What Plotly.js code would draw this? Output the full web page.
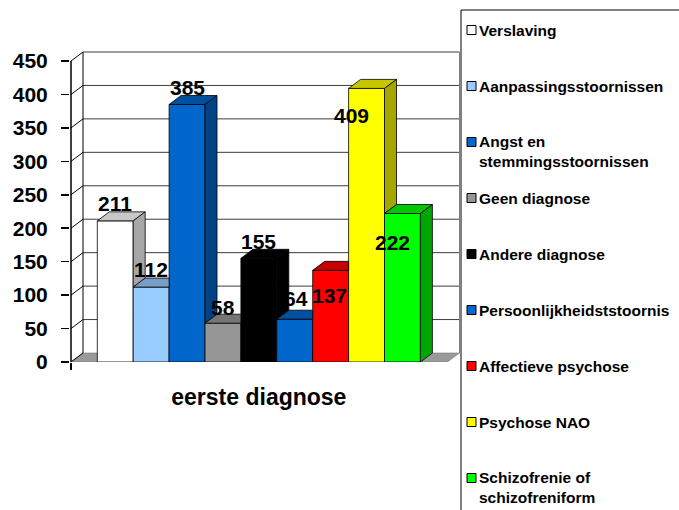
<!DOCTYPE html>
<html><head><meta charset="utf-8">
<script src="https://cdn.plot.ly/plotly-3.0.1.min.js"></script>
<style>html,body{margin:0;padding:0;background:#fff;} #chart{width:679px;height:510px;}</style>
</head><body><div id="chart"></div>
<script>
// ---------------- data ----------------
const categories = ["Verslaving", "Aanpassingsstoornissen", "Angst en stemmingsstoornissen", "Geen diagnose", "Andere diagnose", "Persoonlijkheidststoornis", "Affectieve psychose", "Psychose NAO", "Schizofrenie of schizofreniform"];
const values = [211, 112, 385, 58, 155, 64, 137, 409, 222];
const groupLabel = ["eerste diagnose"];
const yTickValues = [0, 50, 100, 150, 200, 250, 300, 350, 400, 450];

// ---------------- styles ----------------
const colors = ["#ffffff", "#99ccff", "#0066cc", "#969696", "#000000", "#0066cc", "#ff0000", "#ffff00", "#00ff00"];
const labelDx = [0, 0, 0, 0, 0, 1, -1.5, -15, -10];      // px
const labelDy = [17.5, 18, 17, 16, 17, 21, -25, -27, -29]; // px (up positive)

const FONT = "Liberation Sans, Arial, Helvetica, sans-serif";
const W = 679, H = 510;
const M = {l: 70, r: 219, t: 50, b: 148};
const plotW = W - M.l - M.r, plotH = H - M.t - M.b;
const plotBottomPx = H - M.b;
const U = 35.9;            // px per category
const bar0Left = 97.3;     // px
const K = 301 / 450;       // px per value unit
const xRange = [-0.5 - (bar0Left - M.l) / U, -0.5 + (W - M.r - bar0Left) / U];
const yRange = [0, plotH / K];
const dx = 12 / U, dy = 9 / K;
const frontL = -0.5 - (bar0Left - 71) / U;
const frontR = -0.5 + (447.5 - bar0Left) / U;

function shade(hex, f) {
  const n = parseInt(hex.slice(1), 16);
  const r = Math.round(((n >> 16) & 255) * f), g = Math.round(((n >> 8) & 255) * f), b = Math.round((n & 255) * f);
  return "rgb(" + r + "," + g + "," + b + ")";
}
function clipHP(poly, axis, val, keepGE) {
  const out = [];
  for (let k = 0; k < poly.length; k++) {
    const P = poly[k], Q = poly[(k + 1) % poly.length];
    const inP = keepGE ? P[axis] >= val - 1e-9 : P[axis] <= val + 1e-9;
    const inQ = keepGE ? Q[axis] >= val - 1e-9 : Q[axis] <= val + 1e-9;
    if (inP) out.push(P);
    if (inP !== inQ) {
      const t = (val - P[axis]) / (Q[axis] - P[axis]);
      out.push([P[0] + t * (Q[0] - P[0]), P[1] + t * (Q[1] - P[1])]);
    }
  }
  return out;
}
function polyTrace(pts, fill) {
  const xs = pts.map(p => p[0]), ys = pts.map(p => p[1]);
  xs.push(pts[0][0]); ys.push(pts[0][1]);
  return {type: "scatter", mode: "lines", x: xs, y: ys, fill: "toself", fillcolor: fill,
          line: {color: "#000", width: 0.8}, hoverinfo: "skip", showlegend: false};
}

const traces = [];
// front faces as bars
categories.forEach((c, i) => {
  traces.push({type: "bar", name: c, x: [i], y: [values[i]], width: [1],
    marker: {color: colors[i], line: {color: "#000", width: 0.8}},
    hoverinfo: "skip", showlegend: false});
});
// 3D top and side faces
categories.forEach((c, i) => {
  const v = values[i], l = i - 0.5, r = i + 0.5;
  const vn = i < values.length - 1 ? values[i + 1] : 0;
  const top = [[l, v], [r, v], [r + dx, v + dy], [l + dx, v + dy]];
  if (vn > v) {
    const a = clipHP(top, 0, r, false);
    if (a.length > 2) traces.push(polyTrace(a, shade(colors[i], 0.78)));
    const b = clipHP(top, 1, vn, true);
    if (b.length > 2) traces.push(polyTrace(b, shade(colors[i], 0.78)));
  } else {
    traces.push(polyTrace(top, shade(colors[i], 0.78)));
  }
  if (v > vn) {
    const side = [[r, vn], [r + dx, vn + dy], [r + dx, v + dy], [r, v]];
    traces.push(polyTrace(side, shade(colors[i], 0.65)));
  }
});

// ---------------- shapes ----------------
const shapes = [];
// floor
shapes.push({type: "path", xref: "x", yref: "y", layer: "below",
  path: `M${frontL},0 L${frontR},0 L${frontR + dx},${dy} L${frontL + dx},${dy} Z`,
  fillcolor: "#9a9a9a", line: {color: "#7a7a7a", width: 0.6}});
// back-wall gridlines and side-wall diagonals
yTickValues.forEach(v => {
  if (v > 0) shapes.push({type: "line", xref: "x", yref: "y", layer: "below",
    x0: frontL + dx, x1: frontR + dx, y0: v + dy, y1: v + dy, line: {color: "#3c3c3c", width: 1}});
  shapes.push({type: "line", xref: "x", yref: "y", layer: "below",
    x0: frontL, x1: frontL + dx, y0: v, y1: v + dy, line: {color: "#000", width: 1}});
});
const topV = yTickValues[yTickValues.length - 1];
shapes.push({type: "line", xref: "x", yref: "y", layer: "below",
  x0: frontL + dx, x1: frontL + dx, y0: dy, y1: topV + dy, line: {color: "#000", width: 1}});
shapes.push({type: "line", xref: "x", yref: "y", layer: "below",
  x0: frontR + dx, x1: frontR + dx, y0: dy, y1: topV + dy, line: {color: "#808080", width: 1}});
// front y axis line
shapes.push({type: "line", xref: "x", yref: "y", layer: "above",
  x0: frontL, x1: frontL, y0: 0, y1: topV, line: {color: "#000", width: 1.5}});

// legend (custom, boxed)
const px2x = px => (px - M.l) / plotW;
const py2y = py => (plotBottomPx - py) / plotH;
shapes.push({type: "rect", xref: "paper", yref: "paper",
  x0: px2x(461), x1: px2x(700), y0: py2y(10), y1: py2y(530),
  line: {color: "#000", width: 1}, fillcolor: "rgba(0,0,0,0)"});
function wrap(s, n) {
  const words = s.split(" "), lines = [];
  let cur = "";
  words.forEach(w => {
    if (cur && (cur + " " + w).length > n) { lines.push(cur); cur = w; }
    else cur = cur ? cur + " " + w : w;
  });
  lines.push(cur);
  return lines;
}
const annotations = [];
categories.forEach((c, i) => {
  const yc = 30 + 56 * i;
  shapes.push({type: "rect", xref: "paper", yref: "paper",
    x0: px2x(467), x1: px2x(476), y0: py2y(yc + 4.5), y1: py2y(yc - 4.5),
    fillcolor: colors[i], line: {color: "#000", width: 1}});
  const lines = wrap(c, 25);
  annotations.push({xref: "paper", yref: "paper", x: px2x(477), y: py2y(yc + (lines.length - 1) * 9.5),
    xanchor: "left", yanchor: "middle", align: "left", showarrow: false,
    text: lines.join("<br>"), font: {family: FONT, size: 15.5, weight: "bold", color: "#000"}});
});
// data labels
values.forEach((v, i) => {
  annotations.push({xref: "x", yref: "y", x: i, y: v, xshift: labelDx[i], yshift: labelDy[i],
    xanchor: "center", yanchor: "middle", showarrow: false, text: String(v),
    font: {family: FONT, size: 21, weight: "bold", color: "#000"}});
});

const layout = {
  width: W, height: H, margin: M, paper_bgcolor: "#fff", plot_bgcolor: "rgba(0,0,0,0)",
  showlegend: false, barmode: "overlay",
  xaxis: {range: xRange, showgrid: false, zeroline: false, showline: false,
    tickmode: "array", tickvals: [(values.length - 1) / 2], ticktext: groupLabel, ticks: "",
    ticklabelstandoff: 19, tickfont: {family: FONT, size: 23, weight: "bold", color: "#000"},
    minor: {tickmode: "array", tickvals: [frontL], ticks: "outside", ticklen: 7, tickcolor: "#000", tickwidth: 1.5, showgrid: false}},
  yaxis: {range: yRange, showgrid: false, zeroline: false, showline: false,
    tickmode: "array", tickvals: yTickValues, ticks: "outside", ticklen: 8, tickcolor: "#000", tickwidth: 1.5,
    ticklabelstandoff: 9, tickfont: {family: FONT, size: 21, weight: "bold", color: "#000"}},
  shapes: shapes, annotations: annotations
};
Plotly.newPlot("chart", traces, layout, {staticPlot: true, displayModeBar: false});
</script></body></html>
